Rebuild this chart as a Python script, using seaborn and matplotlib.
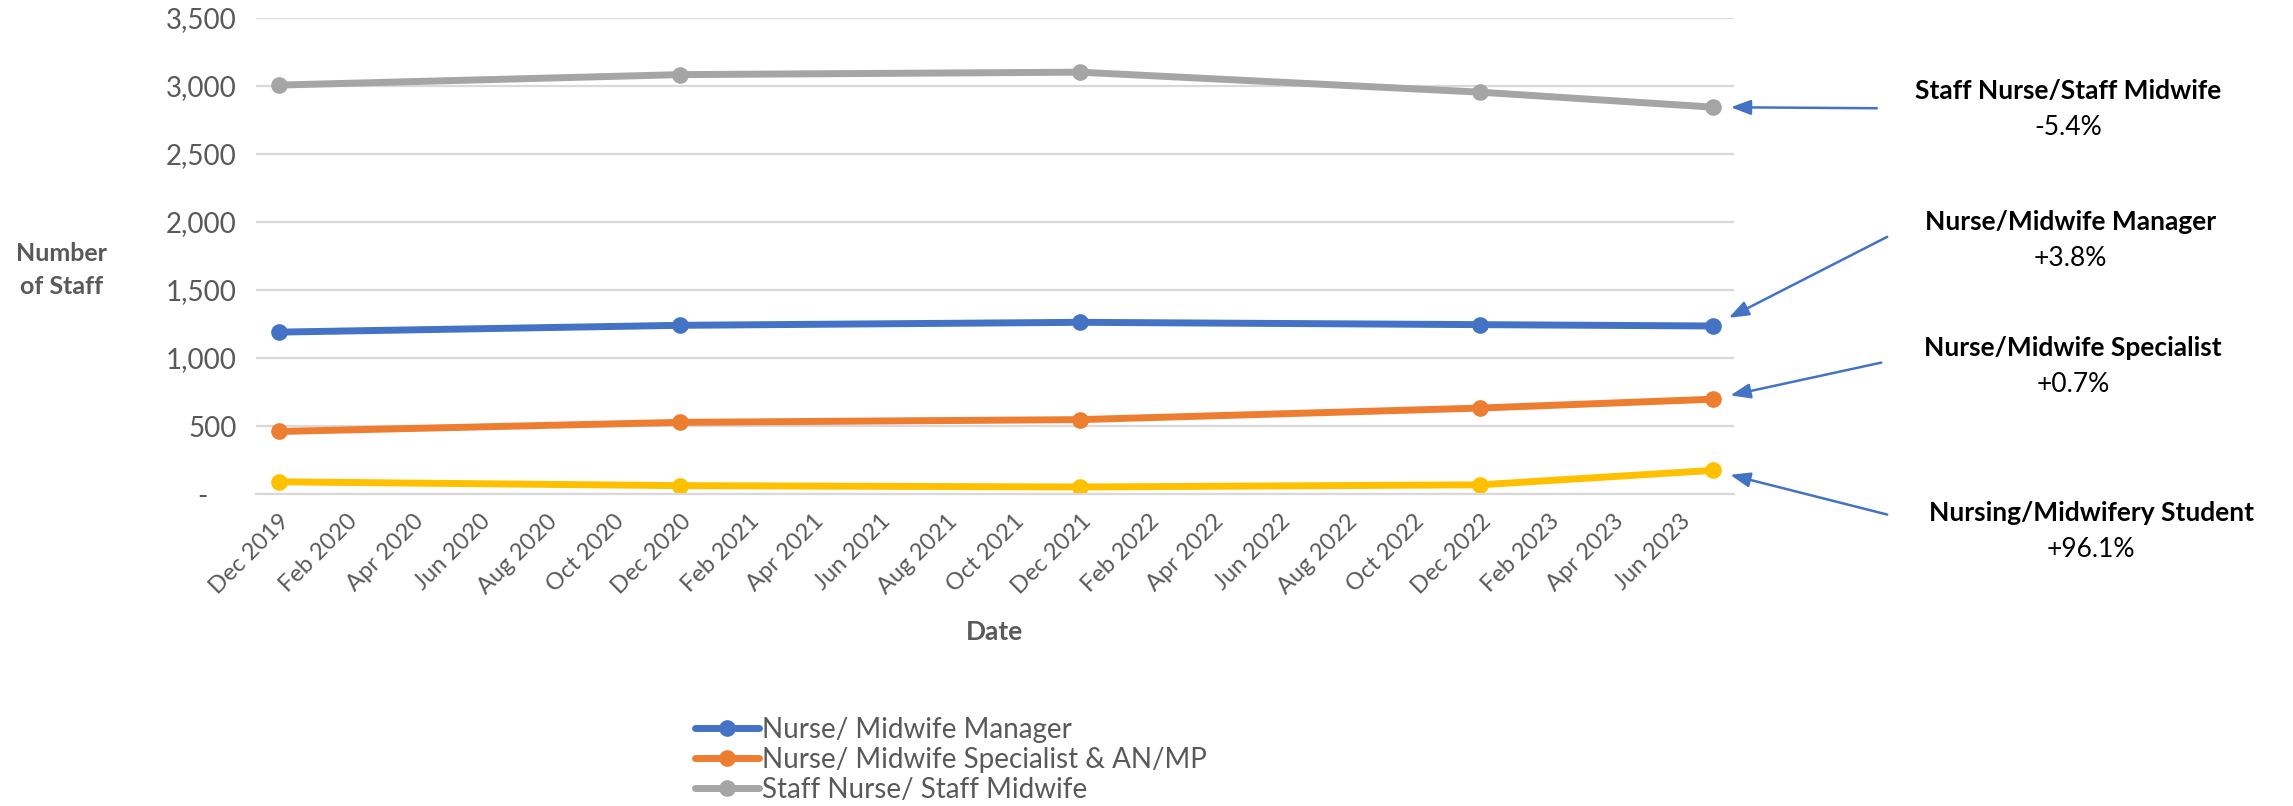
import pandas as pd
import matplotlib.pyplot as plt
import seaborn as sns

# ---- data ----
dates = ['2019-12-01', '2020-12-01', '2021-12-01', '2022-12-01', '2023-07-01']
manager = [1190, 1240, 1262, 1245, 1235]
specialist = [460, 527, 547, 632, 697]
staff_nurse = [3005, 3082, 3100, 2953, 2843]
student = [90, 62, 52, 68, 174]

series_names = ['Nurse/ Midwife Manager', 'Nurse/ Midwife Specialist & AN/MP',
                'Staff Nurse/ Staff Midwife', 'Nursing/ Midwifery Student']
colors = ['#4472C4', '#ED7D31', '#A5A5A5', '#FFC000']

callout_titles = ['Staff Nurse/Staff Midwife', 'Nurse/Midwife Manager',
                  'Nurse/Midwife Specialist', 'Nursing/Midwifery Student']
callout_changes = ['-5.4%', '+3.8%', '+0.7%', '+96.1%']
callout_series = [2, 0, 1, 3]

tick_dates = pd.date_range('2019-12-01', '2023-06-01', freq='2MS')

df = pd.DataFrame({
    'Date': pd.to_datetime(dates * 4),
    'Staff': manager + specialist + staff_nurse + student,
    'Grade': [n for n in series_names for _ in dates],
})

sns.set_style('white')
plt.rcParams['font.family'] = ['Lato', 'DejaVu Sans']
grey = '#595959'

fig = plt.figure(figsize=(22.93, 8.06), dpi=100)
ax = fig.add_axes([0.1116, 0.387, 0.6444, 0.591])

sns.lineplot(data=df, x='Date', y='Staff', hue='Grade', hue_order=series_names,
             palette=colors, marker='o', markersize=12, markeredgewidth=0,
             linewidth=5, ax=ax)

# axes styling
ax.set_ylim(0, 3500)
ax.set_yticks(range(0, 3501, 500))
ax.yaxis.set_major_formatter(lambda v, p: '-    ' if v == 0 else f'{v:,.0f}')
x0, x1 = pd.Timestamp('2019-11-10'), pd.Timestamp('2023-07-20')
ax.set_xlim(x0, x1)
ax.set_xticks(tick_dates)
ax.set_xticklabels([d.strftime('%b %Y') for d in tick_dates], rotation=45,
                   ha='right', rotation_mode='anchor')
minor = [x0] + list(pd.date_range('2020-01-01', '2023-05-01', freq='2MS')) + [x1]
ax.set_xticks(minor, minor=True)
ax.tick_params(axis='x', which='major', length=0, pad=12, labelsize=17, colors=grey)
ax.tick_params(axis='x', which='minor', length=9, width=1.5, color='#D9D9D9')
ax.tick_params(axis='y', length=0, pad=14, labelsize=20, colors=grey)
ax.grid(axis='y', color='#D9D9D9', linewidth=1.6)
ax.set_axisbelow(True)
for s in ['left', 'right', 'top']:
    ax.spines[s].set_visible(False)
ax.spines['bottom'].set_color('#D9D9D9')
ax.spines['bottom'].set_linewidth(1.6)

ax.set_xlabel('Date', fontsize=19, fontweight='bold', color=grey, labelpad=16)
ax.set_ylabel('')
fig.text(0.027, 0.665, 'Number\nof Staff', ha='center', va='center',
         fontsize=18, fontweight='bold', color=grey, linespacing=1.5)

# legend: only the first three series
handles, labels = ax.get_legend_handles_labels()
ax.legend(handles[:3], labels[:3], loc='upper left', bbox_to_anchor=(0.297, 0.128),
          bbox_transform=fig.transFigure, frameon=False, fontsize=20,
          labelcolor=grey, handlelength=2.3, handletextpad=0.1,
          labelspacing=0.15, borderpad=0)

# callouts with arrows
text_x = [0.902, 0.903, 0.904, 0.912]
text_y = [0.887, 0.724, 0.568, 0.363]
tail = [(1.097, 0.81), (1.104, 0.54), (1.10, 0.276), (1.104, -0.043)]
vals = [manager, specialist, staff_nurse, student]
for title, change, idx, tx_, ty, (tx, tyy) in zip(callout_titles, callout_changes,
                                                  callout_series, text_x, text_y, tail):
    fig.text(tx_, ty, title, ha='center', va='center', fontsize=19,
             fontweight='bold', color='black')
    fig.text(tx_, ty - 0.045, change, ha='center', va='center', fontsize=19,
             color='black')
    ax.annotate('', xy=(pd.Timestamp(dates[-1]), vals[idx][-1]), xycoords='data',
                xytext=(tx, tyy), textcoords='axes fraction',
                arrowprops=dict(arrowstyle='-|>,head_length=1.2,head_width=0.45',
                                color='#4472C4', lw=1.8, shrinkA=0, shrinkB=13),
                annotation_clip=False)

fig.savefig('out.png', dpi=100)
